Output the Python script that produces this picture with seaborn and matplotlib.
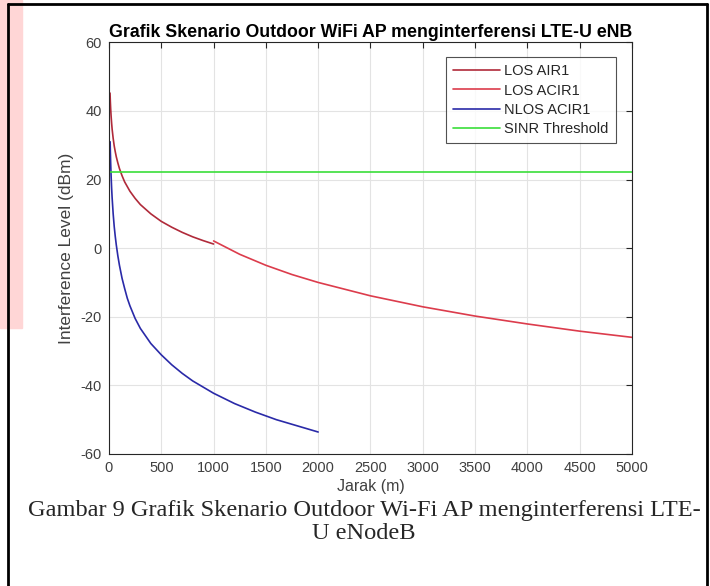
import numpy as np
import pandas as pd
import matplotlib
matplotlib.use("Agg")
import matplotlib.pyplot as plt
import seaborn as sns

# Data (distance in m, level in dBm)
jarak_los_air = [10, 13, 16, 20, 25, 30, 40, 50, 60, 70, 85, 100, 125, 150, 200, 250, 300, 400, 500, 600, 700, 800, 900, 1000]
level_los_air = [45.2, 42.7, 40.7, 38.6, 36.5, 34.7, 32.0, 29.8, 28.1, 26.6, 24.8, 23.2, 21.1, 19.3, 16.6, 14.5, 12.7, 10.0, 7.8, 6.1, 4.6, 3.3, 2.2, 1.2]

jarak_los_acir = [1000, 1250, 1500, 1750, 2000, 2500, 3000, 3500, 4000, 4500, 5000]
level_los_acir = [2.1, -1.8, -5.0, -7.7, -10.0, -13.9, -17.1, -19.8, -22.1, -24.2, -26.0]

jarak_nlos = [11, 13, 16, 20, 25, 30, 40, 50, 60, 70, 85, 100, 125, 150, 175, 200, 250, 300, 400, 500, 600, 700, 800, 1000, 1200, 1400, 1600, 1800, 2000]
level_nlos = [31.0, 28.3, 24.9, 21.2, 17.6, 14.7, 10.0, 6.3, 3.4, 0.9, -2.3, -5.0, -8.8, -11.8, -14.6, -16.8, -20.5, -23.4, -27.8, -31.1, -34.0, -36.5, -38.7, -42.3, -45.3, -47.8, -50.0, -51.8, -53.6]

jarak_sinr = [0, 5000]
level_sinr = [22.3, 22.3]

series_labels = ["LOS AIR1", "LOS ACIR1", "NLOS ACIR1", "SINR Threshold"]
series_colors = ["#b02a3a", "#dc3c4c", "#2a2aa8", "#3ade3a"]

xticks = np.arange(0, 5001, 500)
yticks = np.arange(-60, 61, 20)

sns.set_style("whitegrid")
plt.rcParams["font.family"] = ["Liberation Sans", "DejaVu Sans"]
plt.rcParams["axes.unicode_minus"] = False

fig = plt.figure(figsize=(7.10, 5.86), dpi=100)

# document table cell look (border + pink watermark strip)
fig.patches.append(plt.Rectangle((0, 0.44), 0.031, 0.56, transform=fig.transFigure,
                                 color="#ffd6d6", zorder=0))
fig.add_artist(plt.Line2D([0.0106, 0.0106], [0, 0.993], transform=fig.transFigure,
                          color="black", lw=2))
fig.add_artist(plt.Line2D([0.0106, 0.996], [0.993, 0.993], transform=fig.transFigure,
                          color="black", lw=2))
fig.add_artist(plt.Line2D([0.996, 0.996], [0, 0.993], transform=fig.transFigure,
                          color="black", lw=2))

ax = fig.add_axes([0.1535, 0.2253, 0.7366, 0.7025])
ax.set_facecolor("white")

datos = [(jarak_los_air, level_los_air), (jarak_los_acir, level_los_acir),
         (jarak_nlos, level_nlos), (jarak_sinr, level_sinr)]
for (x, y), lab, col in zip(datos, series_labels, series_colors):
    sns.lineplot(x=x, y=y, ax=ax, color=col, lw=1.2, label=lab,
                 estimator=None, sort=False)

ax.set_xlim(0, 5000)
ax.set_ylim(-60, 60)
ax.set_xticks(xticks)
ax.set_yticks(yticks)
ax.grid(True, color="#e3e3e3", lw=0.8)
for s in ax.spines.values():
    s.set_color("#262626")
    s.set_linewidth(0.8)
ax.tick_params(direction="in", length=4, width=0.8, color="#262626",
               top=True, right=True, labelsize=10.5, labelcolor="#404040", pad=5)

ax.set_title("Grafik Skenario Outdoor WiFi AP menginterferensi LTE-U eNB",
             fontsize=12.8, fontweight="bold", color="black", pad=4)
ax.set_xlabel("Jarak (m)", fontsize=11.5, color="#404040", labelpad=3)
ax.set_ylabel("Interference Level (dBm)", fontsize=12.5, color="#404040", labelpad=5)

leg = ax.legend(loc="upper right", bbox_to_anchor=(0.9694, 0.9643), borderaxespad=0,
                fontsize=10.5, frameon=True, fancybox=False, handlelength=3.2,
                handletextpad=0.3, labelspacing=0.36, borderpad=0.5)
leg.get_frame().set_edgecolor("#262626")
leg.get_frame().set_linewidth(0.8)
for t in leg.get_texts():
    t.set_color("#262626")

fig.text(0.513, 0.129, "Gambar 9 Grafik Skenario Outdoor Wi-Fi AP menginterferensi LTE-",
         family=["Liberation Serif", "DejaVu Serif"], fontsize=17.6, ha="center", va="center")
fig.text(0.513, 0.090, "U eNodeB",
         family=["Liberation Serif", "DejaVu Serif"], fontsize=17.6, ha="center", va="center")

fig.savefig("out.png", dpi=100)
